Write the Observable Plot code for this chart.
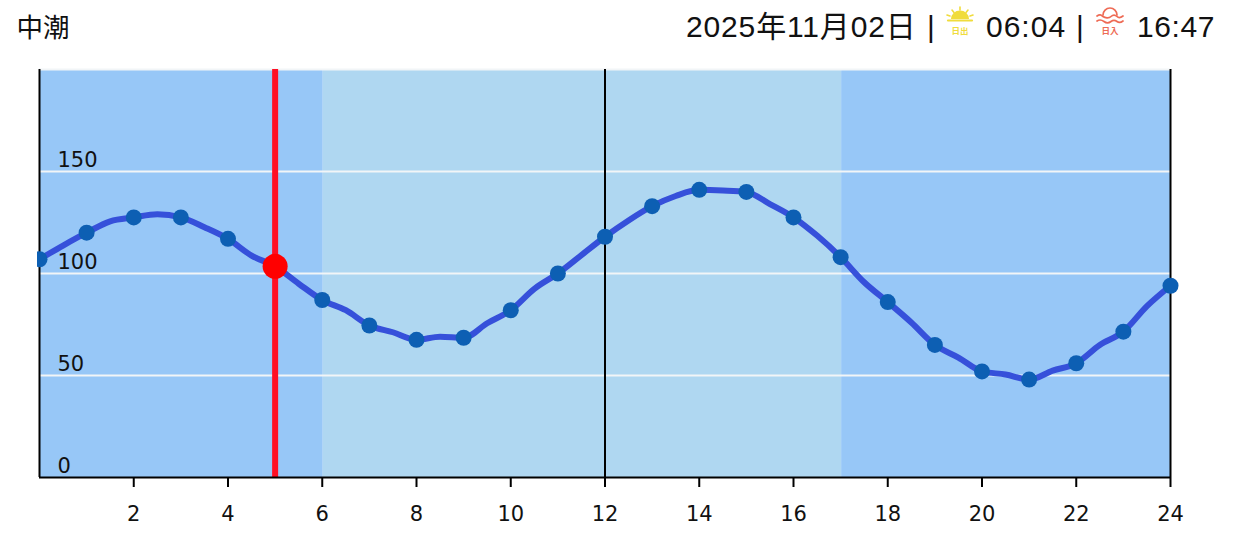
<!DOCTYPE html>
<html><head><meta charset="utf-8">
<script src="https://cdn.jsdelivr.net/npm/d3@7"></script>
<script src="https://cdn.jsdelivr.net/npm/@observablehq/plot@0.6"></script>
<style>
html,body{margin:0;padding:0;background:#fff;width:1235px;height:549px;overflow:hidden}
#head{position:relative;height:60px;font-family:"Liberation Sans","Noto Sans CJK JP",sans-serif;color:#111}
#head span{position:absolute;white-space:nowrap;line-height:34px;top:10px;font-size:30px}
#head svg{position:absolute}
#chart svg{display:block;clip-path:inset(0 0 0 37px)}
</style></head><body>
<div id="head">
<span style="left:16.5px;top:9px;font-size:26.5px;font-family:'Noto Sans CJK JP'">中潮</span>
<span style="left:686px;letter-spacing:.85px">2025年11月02日</span>
<span style="left:927px">|</span>
<svg style="left:945px;top:4px" width="30" height="34" viewBox="0 0 30 34">
<g fill="#f0dc3c" stroke="#f0dc3c" stroke-width="1.6" stroke-linecap="round">
<path d="M6 15a9 8.5 0 0 1 18 0z" stroke="none"/>
<path d="M3 16.5h24" stroke-width="2.2"/>
<path d="M15 3v3M7 6l2 2.5M23 6l-2 2.5M2 11l3 1M28 11l-3 1" /></g>
<text x="15" y="30" font-size="8.5" font-weight="700" text-anchor="middle" fill="#f0dc3c" font-family="Noto Sans CJK JP">日出</text></svg>
<span style="left:986px;letter-spacing:1px">06:04</span>
<span style="left:1076px">|</span>
<svg style="left:1095px;top:5px" width="30" height="32" viewBox="0 0 30 32">
<g fill="none" stroke="#ee6b55" stroke-width="1.7" stroke-linecap="round">
<path d="M8 10a7 7 0 0 1 14 0"/><path d="M2 11c3-2 4-1 6 .5s6 2 8 0 4-2 6 0 4 1 6-.5"/>
<path d="M2 16c3-2 5-1 7 .5s5 1.5 7 0 4-1.5 6 0 4 1 6-.5" /></g>
<text x="15" y="28.5" font-size="8.5" font-weight="700" text-anchor="middle" fill="#ee6b55" font-family="Noto Sans CJK JP">日入</text></svg>
<span style="left:1137px;letter-spacing:.6px">16:47</span>
</div>
<div id="chart"></div>
<script>
const hours = d3.range(0, 25);
const tide = [107,120,127.5,127.5,117,103.5,87,74.5,67.5,68.5,82,100,118,133,141,140,127.5,108,86,65,52,48,56,71.5,94];
const halfHours = d3.range(0.5, 24, 1);
const tideHalf = [113.7,125.6,129,122.7,108.8,95,82,71.2,69,75.6,92.5,109,126,138,140.7,134,118.6,95.7,76,58.8,50.5,52.4,65,84];
const lineData = [...hours.map((h,i)=>({h,v:tide[i]})), ...halfHours.map((h,i)=>({h,v:tideHalf[i]}))].sort((a,b)=>a.h-b.h);
const pointData = hours.map((h,i)=>({h,v:tide[i]}));
const bands = [{a:0,b:6,c:"#97c7f7"},{a:6,b:17,c:"#afd7f1"},{a:17,b:24,c:"#97c7f7"}];
const nowHour = 5, nowValue = 103.5;
const yTicks = [0,50,100,150], yGrid = [50,100,150,200];
const xTicks = d3.range(2, 25, 2);
const axisRules = [0,12,24];

const plot = Plot.plot({
  width:1235, height:489, marginTop:9, marginBottom:72, marginLeft:39, marginRight:65,
  style:{background:"transparent", overflow:"visible"},
  x:{domain:[0,24]}, y:{domain:[0,200],axis:null},
  marks:[
    Plot.rectY(bands,{x1:"a",x2:"b",y1:0,y2:200,fill:"c",dx:1}),
    Plot.ruleY(yGrid,{stroke:"#f2f5f7",strokeWidth:2}),
    Plot.ruleX([nowHour],{stroke:"#ff0f24",strokeWidth:6}),
    Plot.ruleX(axisRules,{stroke:"#000",strokeWidth:2}),
    Plot.ruleY([0],{stroke:"#000",strokeWidth:2}),
    Plot.axisX({ticks:xTicks,tickSize:10,tickPadding:19,tickFormat:d=>d,fontSize:21,fontFamily:"DejaVu Sans",stroke:"#000",strokeWidth:2,label:null,fill:"#111"}),
    Plot.text(yTicks,{x:()=>0,y:d=>d,text:d=>String(d),dx:18,dy:-5,textAnchor:"start",lineAnchor:"bottom",fontSize:21,fontFamily:"DejaVu Sans",fill:"#111"}),
    Plot.line(lineData,{x:"h",y:"v",curve:"monotone-x",stroke:"#3650da",strokeWidth:6}),
    Plot.dot(pointData,{x:"h",y:"v",r:8,fill:"#0d5fb3"}),
    Plot.dot([{h:nowHour,v:nowValue}],{x:"h",y:"v",r:12.5,fill:"#ff0000"})
  ]
});
document.getElementById("chart").append(plot);
</script>
</body></html>
